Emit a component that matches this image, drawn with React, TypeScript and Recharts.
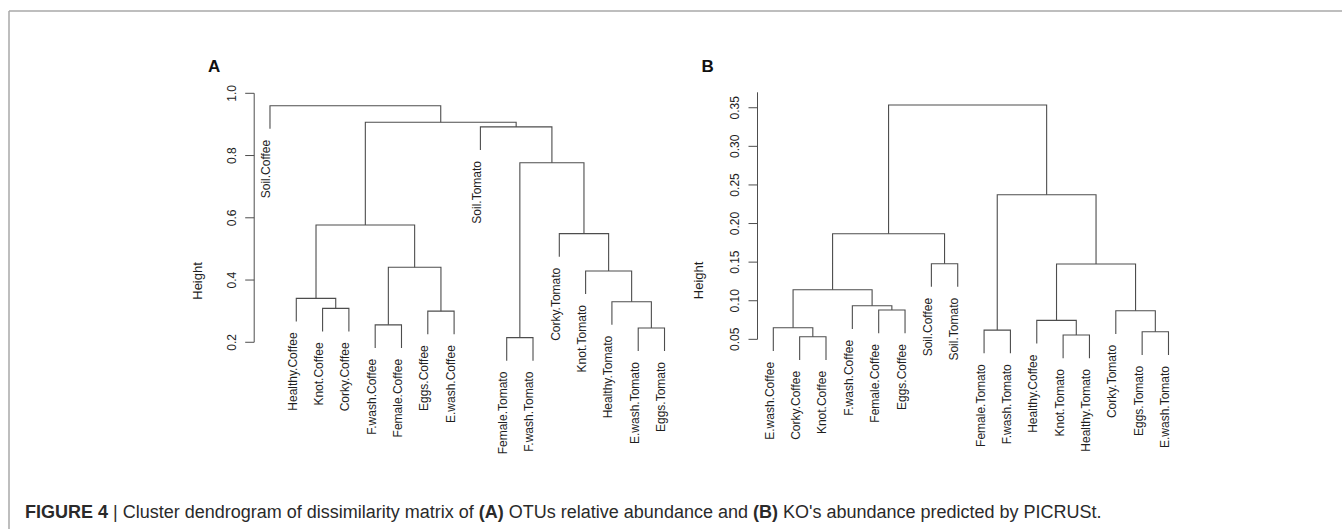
import React from "react";
import { ComposedChart, Scatter, XAxis, YAxis, ReferenceLine } from "recharts";

// leaf order as drawn, left to right
const leavesA = [
  "Soil.Coffee", "Healthy.Coffee", "Knot.Coffee", "Corky.Coffee",
  "F.wash.Coffee", "Female.Coffee", "Eggs.Coffee", "E.wash.Coffee",
  "Soil.Tomato", "Female.Tomato", "F.wash.Tomato", "Corky.Tomato",
  "Knot.Tomato", "Healthy.Tomato", "E.wash.Tomato", "Eggs.Tomato",
];
// hclust style merges: negative = leaf position, positive = earlier merge row
const mergesA: [number, number, number][] = [
  [-10, -11, 0.215],
  [-15, -16, 0.246],
  [-5, -6, 0.256],
  [-7, -8, 0.3],
  [-3, -4, 0.309],
  [-14, 2, 0.33],
  [-2, 5, 0.341],
  [-13, 6, 0.429],
  [3, 4, 0.441],
  [-12, 8, 0.549],
  [7, 9, 0.577],
  [1, 10, 0.777],
  [-9, 12, 0.892],
  [11, 13, 0.907],
  [-1, 14, 0.96],
];
const ticksA = [0.2, 0.4, 0.6, 0.8, 1.0];

const leavesB = [
  "E.wash.Coffee", "Corky.Coffee", "Knot.Coffee", "F.wash.Coffee",
  "Female.Coffee", "Eggs.Coffee", "Soil.Coffee", "Soil.Tomato",
  "Female.Tomato", "F.wash.Tomato", "Healthy.Coffee", "Knot.Tomato",
  "Healthy.Tomato", "Corky.Tomato", "Eggs.Tomato", "E.wash.Tomato",
];
const mergesB: [number, number, number][] = [
  [-2, -3, 0.0534],
  [-12, -13, 0.0556],
  [-15, -16, 0.0598],
  [-9, -10, 0.062],
  [-1, 1, 0.065],
  [-11, 2, 0.0746],
  [-14, 3, 0.087],
  [-5, -6, 0.088],
  [-4, 8, 0.0935],
  [5, 9, 0.1143],
  [6, 7, 0.1475],
  [-7, -8, 0.148],
  [10, 12, 0.1868],
  [4, 11, 0.2373],
  [13, 14, 0.3535],
];
const ticksB = [0.05, 0.1, 0.15, 0.2, 0.25, 0.3, 0.35];

const LINE = "#4d4d4d";
const TEXT = "#1e1e1e";
const FONT = '"Liberation Sans", Arial, Helvetica, sans-serif';

type Pt = { x: number; h: number; name?: string };

function buildTree(leaves: string[], merges: [number, number, number][], hang: number) {
  const mx: number[] = [];
  const branches: Pt[][] = [];
  const leafEnds: Pt[] = [];
  const xOf = (c: number) => (c < 0 ? -c : mx[c - 1]);
  const yOf = (c: number, h: number) => (c < 0 ? h - hang : merges[c - 1][2]);
  merges.forEach(([a, b, h], i) => {
    const xa = xOf(a), xb = xOf(b);
    const ya = yOf(a, h), yb = yOf(b, h);
    if (a < 0) leafEnds.push({ x: -a, h: ya, name: leaves[-a - 1] });
    if (b < 0) leafEnds.push({ x: -b, h: yb, name: leaves[-b - 1] });
    mx[i] = (xa + xb) / 2;
    branches.push([
      { x: xa, h: ya },
      { x: xa, h },
      { x: xb, h },
      { x: xb, h: yb },
    ]);
  });
  return { branches, leafEnds };
}

const NoDot = () => <g />;

const LeafLabel = (props: any) => {
  const { cx, cy, payload } = props;
  const x = cx + 0.5;
  const y = cy + 11;
  return (
    <text x={x} y={y} transform={`rotate(-90, ${x}, ${y})`} textAnchor="end"
      fontSize={12} fontFamily={FONT} fill={TEXT}>
      {payload.name}
    </text>
  );
};

const makeTick = (digits: number) => (props: any) => {
  const { x, y, payload } = props;
  return (
    <text x={x} y={y} transform={`rotate(-90, ${x}, ${y})`} textAnchor="middle"
      fontSize={12} fontFamily={FONT} fill={TEXT}>
      {Number(payload.value).toFixed(digits)}
    </text>
  );
};

interface PanelProps {
  leaves: string[];
  merges: [number, number, number][];
  hang: number;
  ticks: number[];
  digits: number;
  domain: [number, number];
  axisTop: number;
  width: number;
  axisWidth: number;
  margin: { top: number; right: number; bottom: number; left: number };
  titleGap: number;
  titleShift: number;
}

function Dendrogram(p: PanelProps) {
  const { branches, leafEnds } = buildTree(p.leaves, p.merges, p.hang);
  const n = p.leaves.length;
  const xMin = 1 - 0.04 * (n - 1);
  const xMax = n + 0.04 * (n - 1);
  return (
    <ComposedChart width={p.width} height={529} margin={p.margin}>
      <XAxis type="number" dataKey="x" domain={[xMin, xMax]} hide />
      <YAxis
        type="number"
        dataKey="h"
        domain={p.domain}
        ticks={p.ticks}
        width={p.axisWidth}
        axisLine={false}
        tickLine={{ stroke: LINE, strokeWidth: 1 }}
        tickSize={9}
        tickMargin={9.5}
        tick={makeTick(p.digits)}
        interval={0}
        label={{
          content: (lp: any) => {
            const vb = lp.viewBox;
            const x = vb.x + vb.width - p.titleGap;
            const y = vb.y + vb.height / 2 + p.titleShift;
            return (
              <text x={x} y={y} transform={`rotate(-90, ${x}, ${y})`} textAnchor="middle"
                fontSize={13} fontFamily={FONT} fill={TEXT}>
                Height
              </text>
            );
          },
        }}
      />
      <ReferenceLine
        segment={[{ x: xMin, y: p.ticks[0] }, { x: xMin, y: p.axisTop }]}
        stroke={LINE}
        strokeWidth={1}
        ifOverflow="visible"
      />
      {branches.map((seg, i) => (
        <Scatter
          key={i}
          data={seg}
          dataKey="h"
          line={{ stroke: LINE, strokeWidth: 1.1 }}
          stroke={LINE}
          fill={LINE}
          shape={NoDot}
          isAnimationActive={false}
        />
      ))}
      <Scatter data={leafEnds} dataKey="h" shape={LeafLabel} isAnimationActive={false} />
    </ComposedChart>
  );
}

export default function App() {
  return (
    <div style={{ position: "absolute", left: 0, top: 0, width: 1342, height: 529, background: "#fff", overflow: "hidden" }}>
      <div style={{ position: "absolute", left: 0, top: 0 }}>
        <Dendrogram
          leaves={leavesA}
          merges={mergesA}
          hang={0.074}
          ticks={ticksA}
          digits={1}
          domain={[0.1, 1.0]}
          axisTop={1.0}
          width={690}
          axisWidth={254.2}
          margin={{ top: 93.3, right: 9.7, bottom: 155.6, left: 0 }}
          titleGap={52}
          titleShift={47.6}
        />
      </div>
      <div style={{ position: "absolute", left: 680, top: 0 }}>
        <Dendrogram
          leaves={leavesB}
          merges={mergesB}
          hang={0.03}
          ticks={ticksB}
          digits={2}
          domain={[0.02, 0.37]}
          axisTop={0.37}
          width={662}
          axisWidth={77.5}
          margin={{ top: 92.3, right: 157.7, bottom: 166.5, left: 0 }}
          titleGap={54}
          titleShift={53}
        />
      </div>
      <svg width={1342} height={529} style={{ position: "absolute", left: 0, top: 0, pointerEvents: "none" }}>
        <line x1={9} y1={11} x2={1342} y2={11} stroke="#a9a9a9" strokeWidth={1.5} />
        <line x1={9} y1={11} x2={9} y2={529} stroke="#a9a9a9" strokeWidth={1.5} />
        <text x={208} y={72} fontSize={17} fontWeight="bold" fontFamily={FONT} fill="#111">A</text>
        <text x={701.5} y={72} fontSize={17} fontWeight="bold" fontFamily={FONT} fill="#111">B</text>
        <text x={25} y={518} fontSize={18} fontFamily={FONT} fill="#2a2a2a">
          <tspan fontWeight="bold">FIGURE 4</tspan>
          <tspan> | Cluster dendrogram of dissimilarity matrix of </tspan>
          <tspan fontWeight="bold">(A)</tspan>
          <tspan> OTUs relative abundance and </tspan>
          <tspan fontWeight="bold">(B)</tspan>
          <tspan> KO's abundance predicted by PICRUSt.</tspan>
        </text>
      </svg>
    </div>
  );
}
